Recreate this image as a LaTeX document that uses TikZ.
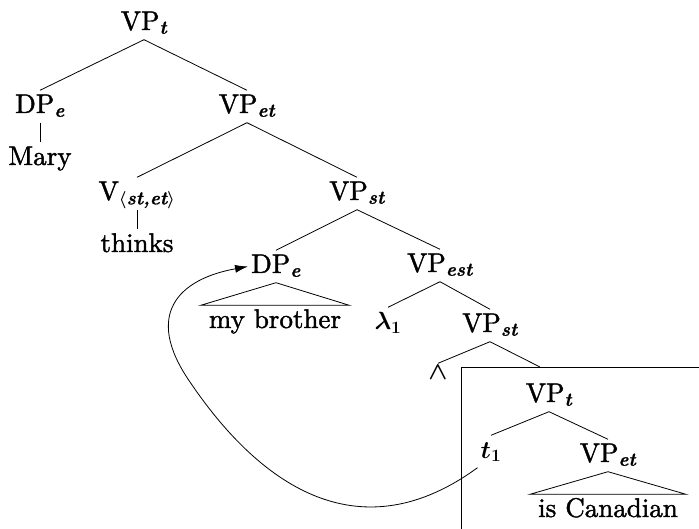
\documentclass[tikz,border=0pt]{standalone}
\usepackage{amsmath}
\usepackage[no-math]{fontspec}
\usepackage{bm}
\setmainfont{lmroman10-regular.otf}[FakeBold=1.5]
\newfontfamily\subfont{lmroman10-bolditalic.otf}[FakeBold=1]
% heavy italic type subscript
\newcommand\tsub[1]{$_{\text{\subfont #1}}$}
\usetikzlibrary{arrows.meta}
\tikzset{
  lab/.style={anchor=base, inner xsep=3pt, inner ysep=4.5pt,
    text height=18pt, text depth=5pt, font=\fontsize{27}{31}\selectfont},
  roof/.style={lab, inner xsep=8pt},
  edge/.style={line width=0.8pt},
}
\begin{document}
\begin{tikzpicture}[x=1pt,y=-1pt]
\useasboundingbox (0,0) rectangle (699,529);

% tree labels
\node[lab] (root) at (144,30) {VP\tsub{t}};
\node[lab] (dpa) at (40,113) {DP\tsub{e}};
\node[lab] (mary) at (40,165) {Mary};
\node[lab] (vpa) at (247,113) {VP\tsub{et}};
\node[lab] (verb) at (137,200) {V$_{\bm{\langle}\text{\subfont st,et}\bm{\rangle}}$};
\node[lab] (thinks) at (137,252) {thinks};
\node[lab] (vpb) at (357,200) {VP\tsub{st}};
\node[lab] (dpb) at (276,273) {DP\tsub{e}};
\node[roof] (brother) at (275,328) {my brother};
\node[lab] (vpc) at (440,272) {VP\tsub{est}};
\node[lab] (lam) at (388,330) {$\bm{\lambda}_{\bm 1}$};
\node[lab] (vpd) at (490,332) {VP\tsub{st}};
\node[lab, text height=12pt] (conj) at (438,380) {$\bm{\wedge}$};
\node[lab] (vpe) at (549,402) {VP\tsub{t}};
\node[lab] (trace) at (491,458) {$\bm{t}_{\bm 1}$};
\node[lab] (vpf) at (608,462) {VP\tsub{et}};
\node[roof] (canadian) at (608,517) {is Canadian};

% branches
\draw[edge] (root.south) -- (dpa.north);
\draw[edge] (root.south) -- (vpa.north);
\draw[edge] (dpa.south) -- (mary.north);
\draw[edge] (vpa.south) -- (verb.north);
\draw[edge] (vpa.south) -- (vpb.north);
\draw[edge] (verb.south) -- (thinks.north);
\draw[edge] (vpb.south) -- (dpb.north);
\draw[edge] (vpb.south) -- (vpc.north);
\draw[edge] (dpb.south) -- (brother.north west) -- (brother.north east) -- cycle;
\draw[edge] (vpc.south) -- (lam.north);
\draw[edge] (vpc.south) -- (vpd.north);
\draw[edge] (vpd.south) -- (conj.north);
\coordinate (hit) at (540,367);
\draw[edge] (vpd.south) -- (hit);
\draw[edge] (vpe.south) -- (trace.north);
\draw[edge] (vpe.south) -- (vpf.north);
\draw[edge] (vpf.south) -- (canadian.north west) -- (canadian.north east) -- cycle;

% frame around the embedded clause
\draw[edge] (461,529) -- (461,367) -- (699,367);

% movement arrow from the trace back to the moved DP
\draw[edge, -{Latex[length=13pt,width=8pt]}] (trace.south west)
  .. controls (362,552) and (263,490) .. (190,382)
  .. controls (143,314) and (179,279) .. (dpb.west);
\end{tikzpicture}
\end{document}
